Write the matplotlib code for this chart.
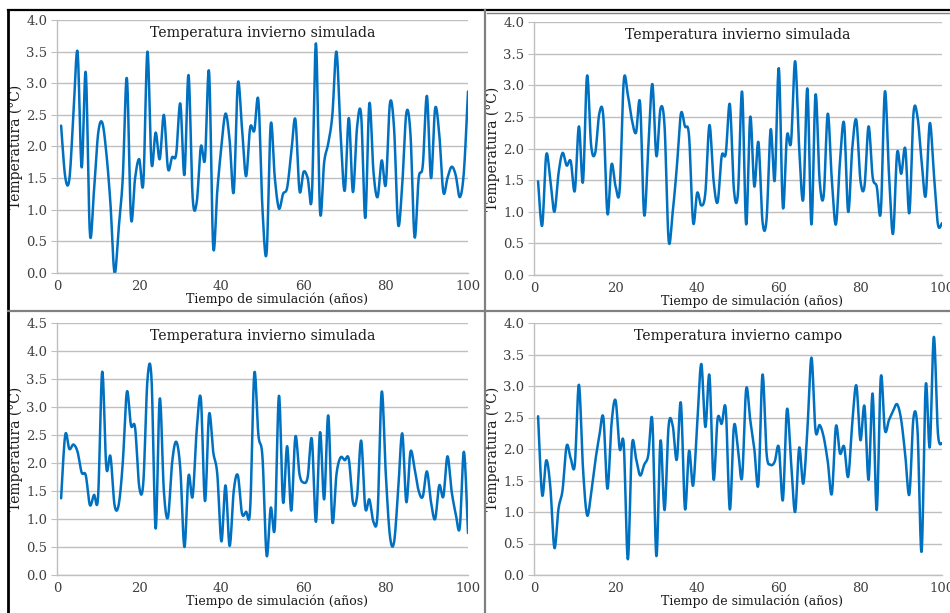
import matplotlib
matplotlib.use("Agg")
import matplotlib.pyplot as plt
import numpy as np
from matplotlib.lines import Line2D

# Años de simulación
years = np.arange(1, 101)

# Panel superior izquierdo
sim_a = [2.33, 1.52, 1.48, 2.5, 3.5, 1.67, 3.17, 0.63, 1.3, 2.2,
         2.38, 1.9, 1.1, 0.0, 0.7, 1.5, 3.08, 0.87, 1.5, 1.8,
         1.42, 3.5, 1.73, 2.22, 1.8, 2.5, 1.65, 1.83, 1.88, 2.68,
         1.55, 3.13, 1.2, 1.12, 2.0, 1.8, 3.18, 0.42, 1.3, 2.0,
         2.52, 2.1, 1.28, 3.0, 2.3, 1.53, 2.3, 2.25, 2.73, 1.0,
         0.32, 2.35, 1.5, 1.02, 1.25, 1.35, 1.9, 2.43, 1.3, 1.6,
         1.5, 1.2, 3.63, 0.97, 1.75, 2.05, 2.5, 3.5, 2.2, 1.3,
         2.45, 1.28, 2.3, 2.5, 0.87, 2.68, 1.6, 1.2, 1.78, 1.4,
         2.68, 2.3, 0.77, 1.4, 2.53, 2.2, 0.57, 1.5, 1.7, 2.8,
         1.5, 2.6, 2.2, 1.28, 1.5, 1.68, 1.55, 1.2, 1.6, 2.87]

# Panel superior derecho
sim_b = [1.48, 0.78, 1.9, 1.5, 1.0, 1.6, 1.93, 1.73, 1.8, 1.33,
         2.35, 1.47, 3.15, 2.05, 1.93, 2.55, 2.5, 0.97, 1.75, 1.4,
         1.35, 3.07, 2.85, 2.45, 2.25, 2.72, 0.95, 2.0, 3.02, 1.88,
         2.63, 2.35, 0.55, 1.0, 1.7, 2.55, 2.35, 2.2, 0.83, 1.3,
         1.1, 1.3, 2.37, 1.5, 1.15, 1.88, 1.92, 2.7, 1.35, 1.3,
         2.9, 0.8, 2.5, 1.4, 2.1, 0.85, 0.88, 2.3, 1.5, 3.27,
         1.07, 2.2, 2.1, 3.38, 2.0, 1.2, 2.95, 0.8, 2.85, 1.5,
         1.25, 2.55, 1.5, 0.8, 1.8, 2.4, 1.0, 2.0, 2.45, 1.5,
         1.4, 2.35, 1.55, 1.4, 1.0, 2.9, 1.6, 0.65, 1.93, 1.6,
         2.0, 0.98, 2.55, 2.5, 1.8, 1.25, 2.4, 1.6, 0.8, 0.82]

# Panel inferior izquierdo
sim_c = [1.37, 2.5, 2.25, 2.33, 2.2, 1.83, 1.78, 1.25, 1.43, 1.4,
         3.63, 1.92, 2.12, 1.25, 1.25, 2.0, 3.27, 2.67, 2.63, 1.58,
         1.65, 3.48, 3.5, 0.83, 3.15, 1.5, 1.03, 2.0, 2.38, 1.9,
         0.5, 1.77, 1.4, 2.6, 3.15, 1.32, 2.87, 2.2, 1.8, 0.6,
         1.6, 0.52, 1.5, 1.78, 1.1, 1.13, 1.18, 3.6, 2.5, 2.1,
         0.35, 1.2, 0.85, 3.2, 1.3, 2.3, 1.15, 2.47, 1.8, 1.65,
         1.75, 2.43, 0.95, 2.55, 1.35, 2.85, 0.95, 1.8, 2.1, 2.05,
         2.07, 1.3, 1.4, 2.4, 1.2, 1.35, 0.95, 1.1, 3.27, 1.8,
         0.7, 0.58, 1.5, 2.53, 1.3, 2.2, 1.9, 1.5, 1.4, 1.85,
         1.3, 1.0, 1.6, 1.4, 2.12, 1.5, 1.1, 0.85, 2.2, 0.75]

# Panel inferior derecho (campo)
campo = [2.52, 1.27, 1.82, 1.4, 0.43, 1.05, 1.35, 2.05, 1.85, 1.75,
         3.02, 1.7, 0.95, 1.3, 1.8, 2.2, 2.5, 1.37, 2.4, 2.77,
         2.0, 2.07, 0.25, 2.05, 1.85, 1.58, 1.75, 1.9, 2.45, 0.3,
         2.13, 1.03, 2.37, 2.37, 1.83, 2.73, 1.05, 1.97, 1.42, 2.4,
         3.35, 2.35, 3.17, 1.52, 2.48, 2.4, 2.63, 1.04, 2.36, 2.0,
         1.55, 2.95, 2.46, 2.0, 1.44, 3.18, 1.93, 1.75, 1.8, 2.03,
         1.19, 2.63, 1.8, 1.0, 2.02, 1.45, 2.3, 3.45, 2.29, 2.38,
         2.19, 1.8, 1.29, 2.36, 1.93, 2.04, 1.56, 2.4, 3.01, 2.14,
         2.68, 1.51, 2.88, 1.03, 3.14, 2.3, 2.46, 2.6, 2.71, 2.46,
         1.9, 1.28, 2.49, 2.3, 0.37, 3.01, 2.03, 3.78, 2.25, 2.09]

titles = ["Temperatura invierno simulada", "Temperatura invierno simulada",
          "Temperatura invierno simulada", "Temperatura invierno campo"]
ymaxes = [4.0, 4.0, 4.5, 4.0]
series = [sim_a, sim_b, sim_c, campo]

BLUE = "#0070C0"
GRID = "#BFBFBF"
FONT = "DejaVu Serif"


def smooth(x, y, n=16):
    # curva suavizada tipo Excel (Catmull-Rom)
    x = np.asarray(x, float)
    y = np.asarray(y, float)
    xp = np.concatenate([[x[0]], x, [x[-1]]])
    yp = np.concatenate([[y[0]], y, [y[-1]]])
    t = np.linspace(0, 1, n, endpoint=False)[:, None]
    out = []
    for p in (xp, yp):
        p0, p1, p2, p3 = p[:-3], p[1:-2], p[2:-1], p[3:]
        c1 = p1 + (p2 - p0) / 6
        c2 = p2 - (p3 - p1) / 6
        seg = ((1 - t) ** 3 * p1 + 3 * (1 - t) ** 2 * t * c1
               + 3 * (1 - t) * t ** 2 * c2 + t ** 3 * p2)
        out.append(np.concatenate([seg.T.ravel(), [p[-2]]]))
    return out


fig = plt.figure(figsize=(9.5, 6.13), dpi=100)
W, H = 950, 613

# posiciones en píxeles: izquierda, derecha, arriba, abajo
boxes = [(57, 468, 20, 273), (534, 942, 22, 275),
         (57, 468, 323, 575), (534, 942, 323, 575)]

for (l, r, t, b), vals, title, ymax in zip(boxes, series, titles, ymaxes):
    ax = fig.add_axes([l / W, 1 - b / H, (r - l) / W, (b - t) / H])
    sx, sy = smooth(years, vals)
    ax.plot(sx, sy, color=BLUE, lw=1.8, solid_capstyle="round")
    ax.set_xlim(0, 100)
    ax.set_ylim(0, ymax)
    ax.set_xticks(np.arange(0, 101, 20))
    ax.set_yticks(np.arange(0, ymax + 0.01, 0.5))
    ax.set_yticklabels([f"{v:.1f}" for v in np.arange(0, ymax + 0.01, 0.5)])
    ax.grid(axis="y", color=GRID, lw=1.0)
    ax.set_axisbelow(True)
    for s in ("top", "right"):
        ax.spines[s].set_visible(False)
    for s in ("left", "bottom"):
        ax.spines[s].set_color(GRID)
        ax.spines[s].set_linewidth(1.0)
    ax.tick_params(axis="y", length=4, color=GRID, labelsize=9.5,
                   labelcolor="#404040", pad=3)
    ax.tick_params(axis="x", length=0, labelsize=9.5,
                   labelcolor="#404040", pad=5)
    for lab in ax.get_xticklabels() + ax.get_yticklabels():
        lab.set_family(FONT)
    ax.text(0.5, 0.948, title, transform=ax.transAxes, ha="center",
            va="center", fontsize=10.2, family=FONT, color="#1a1a1a")
    ax.text(0.535, -0.105, "Tiempo de simulación (años)",
            transform=ax.transAxes, ha="center", va="center",
            fontsize=9, family=FONT, color="#1a1a1a")
    ax.set_ylabel("Temperatura (°C)", fontsize=10, family=FONT,
                  color="#1a1a1a", labelpad=2)

# marcos de los paneles
def fline(x0, y0, x1, y1, **kw):
    fig.add_artist(Line2D([x0 / W, x1 / W], [1 - y0 / H, 1 - y1 / H],
                          transform=fig.transFigure, **kw))

fline(8, 10, 950, 10, color="black", lw=1.6)
fline(487, 13, 950, 13, color="#808080", lw=1.0)
fline(8, 10, 8, 613, color="black", lw=2.0)
fline(485, 10, 485, 613, color="#808080", lw=1.6)
fline(8, 311, 950, 311, color="#808080", lw=1.6)

fig.savefig("out.png", dpi=100)
